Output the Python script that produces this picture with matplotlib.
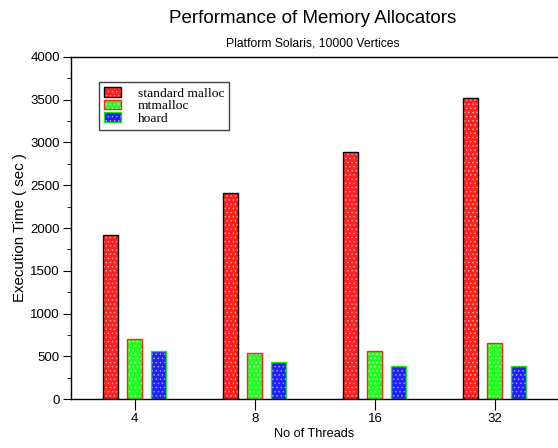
import matplotlib.pyplot as plt
import numpy as np
from matplotlib.ticker import MultipleLocator
from matplotlib.legend_handler import HandlerTuple

threads = ['4', '8', '16', '32']
standard_malloc = [1920, 2410, 2890, 3520]
mtmalloc = [700, 545, 560, 655]
hoard = [560, 430, 388, 388]

series = [
    ('standard malloc', standard_malloc, '#ff2020', '#ff9a9a', 'black'),
    ('mtmalloc', mtmalloc, '#20ff20', '#a8ffa8', '#ff2020'),
    ('hoard', hoard, '#2020ff', '#9a9aff', '#20e020'),
]

plt.rcParams['hatch.linewidth'] = 0.6
SANS = 'Liberation Sans'

fig = plt.figure(figsize=(5.58, 4.48), dpi=100)
ax = fig.add_axes([0.127, 0.109, 0.873, 0.764])

x = np.arange(1, len(threads) + 1)
width = 0.125
offsets = [-0.2, 0.0, 0.2]
handles = []
for (name, vals, face, hatchc, edge), off in zip(series, offsets):
    # hatched fill first, then the coloured outline on top
    ax.bar(x + off, vals, width, color=face, edgecolor=hatchc, hatch='....', linewidth=0)
    ax.bar(x + off, vals, width, fill=False, edgecolor=edge, linewidth=1.0)
    fill = plt.Rectangle((0, 0), 1, 1, facecolor=face, edgecolor=hatchc, hatch='....', linewidth=0)
    outline = plt.Rectangle((0, 0), 1, 1, fill=False, edgecolor=edge, linewidth=1.0)
    handles.append((fill, outline))

ax.set_xlim(0.467, 4.525)
ax.set_ylim(0, 4000)
ax.set_xticks(x)
ax.set_xticklabels(threads)
ax.yaxis.set_major_locator(MultipleLocator(500))
ax.yaxis.set_minor_locator(MultipleLocator(250))
ax.spines['right'].set_visible(False)
for s in ['left', 'bottom', 'top']:
    ax.spines[s].set_linewidth(1.0)
ax.tick_params(axis='y', which='major', length=6, labelsize=9.5, direction='out', pad=2)
ax.tick_params(axis='y', which='minor', length=3, direction='out')
ax.tick_params(axis='x', length=8, labelsize=9.5, direction='out', pad=2)
for lbl in ax.get_xticklabels() + ax.get_yticklabels():
    lbl.set_family(SANS)

ax.set_xlabel('No of Threads', fontsize=9.2, family=SANS, labelpad=2)
ax.set_ylabel('Execution Time ( sec )', fontsize=10.8, family=SANS, labelpad=2)

fig.text(0.561, 0.958, 'Performance of Memory Allocators', ha='center', va='center',
         fontsize=13.5, family=SANS)
fig.text(0.561, 0.902, 'Platform Solaris, 10000 Vertices', ha='center', va='center',
         fontsize=8.7, family=SANS)

leg = ax.legend(handles, [s[0] for s in series], loc='upper left',
                bbox_to_anchor=(0.058, 0.926), fancybox=False, framealpha=1,
                edgecolor='#444444', prop={'family': 'Liberation Serif', 'size': 9.7},
                handler_map={tuple: HandlerTuple(ndivide=1)},
                handlelength=1.3, handleheight=0.75, handletextpad=1.2,
                labelspacing=0.0, borderpad=0.35, borderaxespad=0)
leg.get_frame().set_linewidth(1.0)

fig.savefig('out.png', dpi=100)
